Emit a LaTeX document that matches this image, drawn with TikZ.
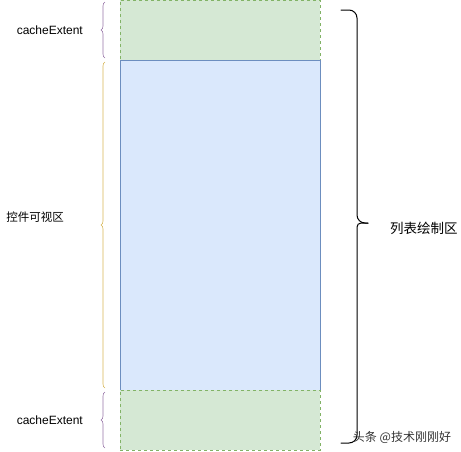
\documentclass[tikz,border=0pt]{standalone}
\usepackage{fontspec}
\setmainfont{Liberation Sans}
\newfontfamily\cjk{Noto Sans CJK SC}
\usetikzlibrary{positioning,decorations.pathreplacing}

\definecolor{cachefill}{HTML}{D5E8D4}
\definecolor{cacheline}{HTML}{82B366}
\definecolor{viewfill}{HTML}{DAE8FC}
\definecolor{viewline}{HTML}{6C8EBF}
\definecolor{cachebrace}{HTML}{9673A6}
\definecolor{viewbrace}{HTML}{D6B656}

\tikzset{
    area/.style={draw, minimum width=200pt, inner sep=0pt, outer sep=0pt, line width=0.6pt},
    cache/.style={area, fill=cachefill, draw=cacheline, dashed, minimum height=60pt},
    visible/.style={area, fill=viewfill, draw=viewline, minimum height=330pt},
    sidebrace/.style={decorate, decoration={brace, amplitude=4pt}, line width=0.6pt},
    drawbrace/.style={line width=1pt, line cap=round},
    lbl/.style={inner sep=0pt, font=\fontsize{12}{14}\selectfont},
}

\begin{document}
\begin{tikzpicture}[x=1pt,y=-1pt]
    \useasboundingbox (0,0) rectangle (461,451);
    \node [cache] (cacheTop) at (220,30) {};
    \node [visible, below=0pt of cacheTop] (view) {};
    \node [cache, below=0pt of view] (cacheBot) {};
    \draw [sidebrace, draw=cachebrace] ([xshift=-15pt,yshift=2pt]cacheTop.south west) -- ([xshift=-15pt,yshift=-2pt]cacheTop.north west);
    \draw [sidebrace, draw=viewbrace] ([xshift=-15pt,yshift=2pt]view.south west) -- ([xshift=-15pt,yshift=-2pt]view.north west);
    \draw [sidebrace, draw=cachebrace] ([xshift=-15pt,yshift=2pt]cacheBot.south west) -- ([xshift=-15pt,yshift=-2pt]cacheBot.north west);
    \node [lbl, left=37pt of cacheTop.west] (cacheTopLbl) {cacheExtent};
    \node [lbl, left=56pt of view.west, yshift=8pt, font=\cjk\fontsize{11.5}{14}\selectfont] (viewLbl) {控件可视区};
    \node [lbl, left=37pt of cacheBot.west] (cacheBotLbl) {cacheExtent};
    \coordinate (drawTop) at (341,10);
    \coordinate (drawMid) at (357,223);
    \coordinate (drawTip) at (368,223);
    \coordinate (drawBot) at (341,443);
    \draw [drawbrace, rounded corners=8pt] (drawTop) -| (drawMid) [rounded corners=4pt] -- (drawTip);
    \draw [drawbrace, rounded corners=4pt] (drawTip) -| ([yshift=40pt]drawBot -| drawMid) [rounded corners=8pt] |- (drawBot);
    \node [lbl, right=22pt of drawTip, yshift=-5pt, font=\cjk\fontsize{13.5}{16}\selectfont] (drawLbl) {列表绘制区};
    \node [lbl, text=black!80, font=\cjk\fontsize{12}{14}\selectfont] (mark) at (402,437) {头条 @技术刚刚好};
\end{tikzpicture}
\end{document}
